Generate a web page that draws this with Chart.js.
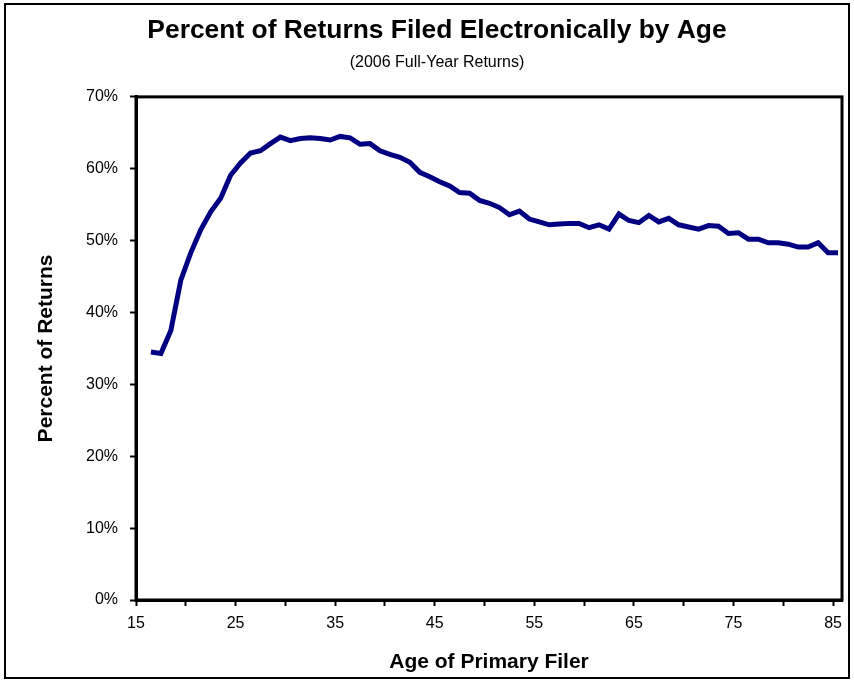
<!DOCTYPE html>
<html>
<head>
<meta charset="utf-8">
<title>Percent of Returns Filed Electronically by Age</title>
<script src="https://cdn.jsdelivr.net/npm/chart.js@4.4.1/dist/chart.umd.min.js"></script>
<style>
  html, body { margin: 0; padding: 0; background: #ffffff; }
  #wrap { width: 854px; height: 683px; }
</style>
</head>
<body>
<div id="wrap"><canvas id="chart" width="854" height="683"></canvas></div>
<script>
// Age of primary filer (single years)
const ages = [
  16, 17, 18, 19, 20, 21, 22, 23, 24, 25,
  26, 27, 28, 29, 30, 31, 32, 33, 34, 35,
  36, 37, 38, 39, 40, 41, 42, 43, 44, 45,
  46, 47, 48, 49, 50, 51, 52, 53, 54, 55,
  56, 57, 58, 59, 60, 61, 62, 63, 64, 65,
  66, 67, 68, 69, 70, 71, 72, 73, 74, 75,
  76, 77, 78, 79, 80, 81, 82, 83, 84, 85
];

// Share of 2006 full-year returns filed electronically, in percent
const pctElectronic = [
  34.5, 34.3, 37.5, 44.5, 48.3, 51.5, 54.0, 55.9, 59.1, 60.8,
  62.2, 62.5, 63.5, 64.4, 63.9, 64.2, 64.3, 64.2, 64.0, 64.5,
  64.3, 63.4, 63.5, 62.5, 62.0, 61.6, 60.9, 59.5, 58.9, 58.2,
  57.6, 56.7, 56.6, 55.6, 55.2, 54.6, 53.6, 54.1, 53.0, 52.6,
  52.2, 52.3, 52.4, 52.4, 51.8, 52.2, 51.6, 53.7, 52.8, 52.5,
  53.5, 52.6, 53.1, 52.2, 51.9, 51.6, 52.1, 52.0, 51.0, 51.1,
  50.2, 50.2, 49.7, 49.7, 49.5, 49.1, 49.1, 49.7, 48.3, 48.3
];

// Axis tick values
const xTickValues = [15, 20, 25, 30, 35, 40, 45, 50, 55, 60, 65, 70, 75, 80, 85];
const xTickLabels = [15, 25, 35, 45, 55, 65, 75, 85];
const yTickValues = [0, 10, 20, 30, 40, 50, 60, 70];

const FONT = "'Liberation Sans', Arial, Helvetica, sans-serif";

// Each single-year age sits in the middle of its one-year band on the axis
const points = ages.map((a, i) => ({ x: a + 0.5, y: pctElectronic[i] }));

// Black frames: one round the plot area, one round the whole chart
const frames = {
  id: 'frames',
  afterDraw(chart) {
    const { ctx, chartArea: a } = chart;
    ctx.save();
    ctx.strokeStyle = '#000000';
    ctx.lineWidth = 3;
    ctx.strokeRect(a.left, a.top, a.right - a.left, a.bottom - a.top);
    ctx.lineWidth = 2;
    ctx.strokeRect(5, 4, chart.width - 10, chart.height - 9);
    ctx.restore();
  }
};

new Chart(document.getElementById('chart'), {
  type: 'line',
  data: {
    datasets: [{
      label: 'Percent of Returns',
      data: points,
      borderColor: '#000080',
      backgroundColor: '#000080',
      borderWidth: 5,
      pointRadius: 0,
      tension: 0,
      fill: false
    }]
  },
  options: {
    responsive: false,
    animation: false,
    devicePixelRatio: 1,
    layout: { padding: { left: 32, right: 12, top: 0, bottom: 8 } },
    plugins: {
      legend: { display: false },
      tooltip: { enabled: false },
      title: {
        display: true,
        text: 'Percent of Returns Filed Electronically by Age',
        color: '#000000',
        font: { family: FONT, size: 26.4, weight: 'bold' },
        padding: { top: 15, bottom: 3 }
      },
      subtitle: {
        display: true,
        text: '(2006 Full-Year Returns)',
        color: '#000000',
        font: { family: FONT, size: 16, weight: 'normal' },
        padding: { top: 3, bottom: 25 }
      }
    },
    scales: {
      x: {
        type: 'linear',
        min: 15,
        max: 85.9,
        afterFit(scale) { scale.height = 75; },
        afterBuildTicks(scale) { scale.ticks = xTickValues.map(v => ({ value: v })); },
        ticks: {
          autoSkip: false,
          maxRotation: 0,
          color: '#000000',
          padding: 8,
          font: { family: FONT, size: 16 },
          callback: v => (xTickLabels.includes(v) ? String(v) : '')
        },
        grid: {
          drawOnChartArea: false,
          drawTicks: true,
          tickLength: 6,
          tickWidth: 2,
          tickColor: '#000000'
        },
        border: { display: true, color: '#000000', width: 3 },
        title: {
          display: true,
          text: 'Age of Primary Filer',
          color: '#000000',
          font: { family: FONT, size: 21, weight: 'bold' },
          padding: { top: 0, bottom: 0 }
        }
      },
      y: {
        type: 'linear',
        min: 0,
        max: 70,
        afterFit(scale) { scale.width = 104; },
        afterBuildTicks(scale) { scale.ticks = yTickValues.map(v => ({ value: v })); },
        ticks: {
          color: '#000000',
          padding: 12,
          font: { family: FONT, size: 16 },
          callback: v => v + '%'
        },
        grid: {
          drawOnChartArea: false,
          drawTicks: true,
          tickLength: 6,
          tickWidth: 2,
          tickColor: '#000000'
        },
        border: { display: true, color: '#000000', width: 3 },
        title: {
          display: true,
          text: 'Percent of Returns',
          color: '#000000',
          font: { family: FONT, size: 21, weight: 'bold' },
          padding: { top: 2, bottom: 0 }
        }
      }
    }
  },
  plugins: [frames]
});
</script>
</body>
</html>
